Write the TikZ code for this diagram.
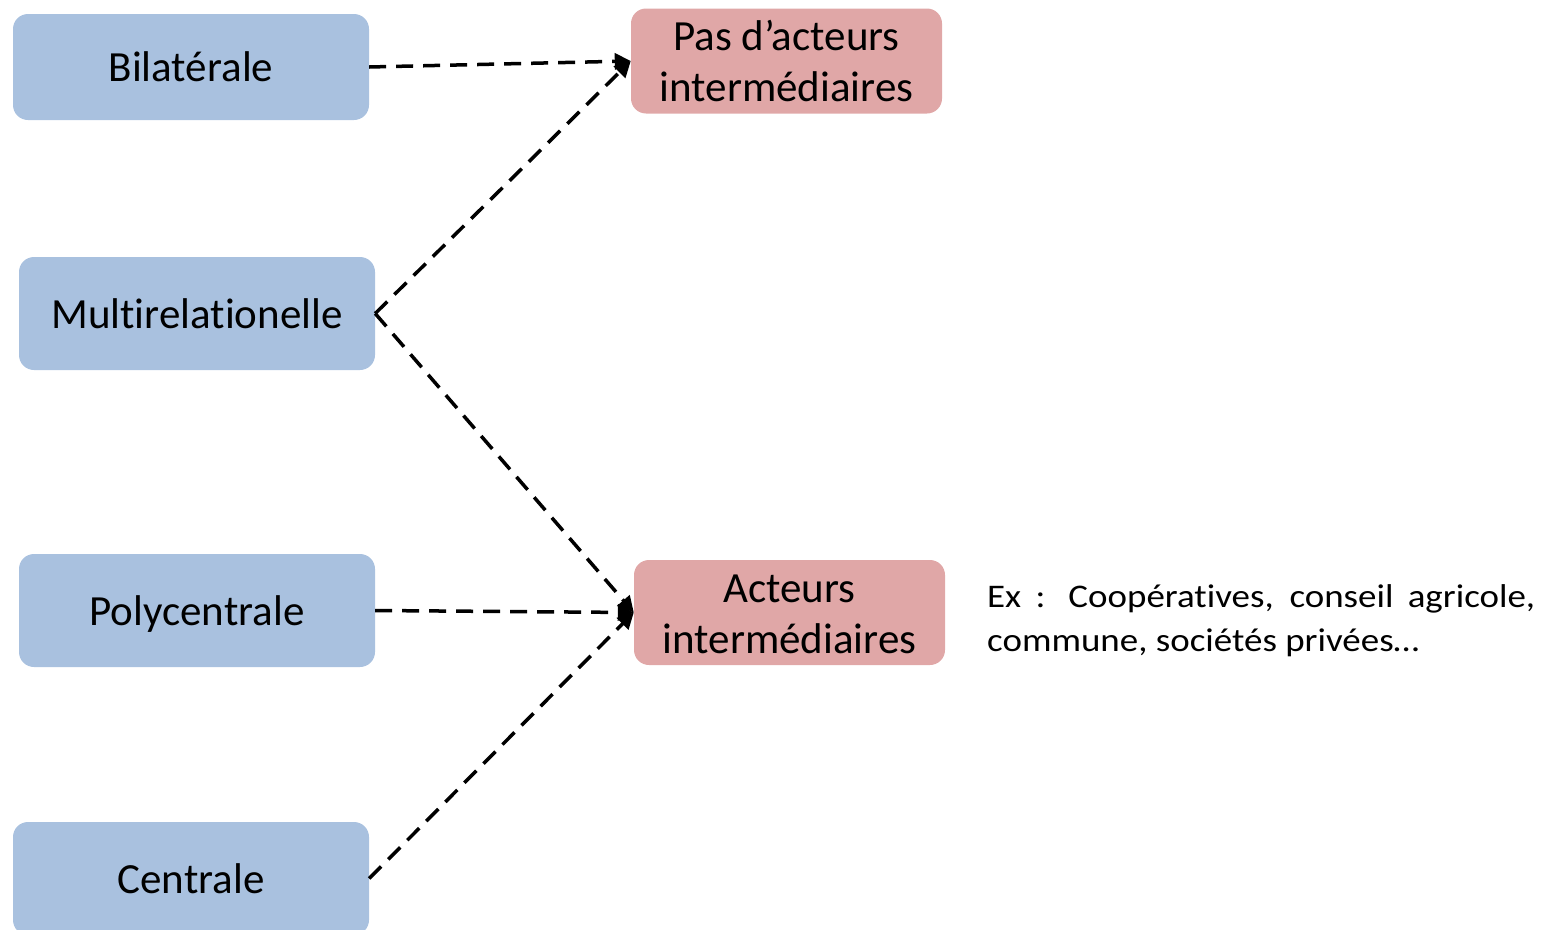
\documentclass[tikz,border=0pt]{standalone}
\usepackage{fontspec}
\setmainfont{Carlito}[RawFeature={-liga}]
\newfontfamily\exfont{Carlito}[RawFeature={-liga}, FakeStretch=1.12]
\usetikzlibrary{arrows.meta}
\definecolor{boxblue}{HTML}{A9C1DF}
\definecolor{boxpink}{HTML}{E0A7A7}
\begin{document}
\begin{tikzpicture}[x=1pt,y=-1pt,
  bbox/.style={fill=boxblue, rounded corners=15pt, minimum width=356pt, minimum height=#1, inner sep=0pt, text height=31pt, text depth=2pt, font=\fontsize{43}{51}\selectfont},
  pbox/.style={fill=boxpink, rounded corners=15pt, minimum width=311pt, minimum height=105pt, inner sep=0pt, align=center, font=\fontsize{43}{51}\selectfont},
  conn/.style={black, line width=3.5pt, dash pattern=on 17pt off 10pt, -{Triangle[length=16pt,width=16pt]}}]
\useasboundingbox (0,0) rectangle (1542,929);
\begin{scope}
\clip (0,0) rectangle (1542,929);
\node[bbox=106pt] (bil) at (191,67) {Bilatérale};
\node[bbox=113pt] (mul) at (197,313.5) {Multirelationelle};
\node[bbox=113pt] (pol) at (197,610.5) {Polycentrale};
\node[bbox=113pt] (cen) at (191,878.5) {Centrale};
\node[pbox] (pas) at (786.5,61) {Pas d’acteurs\\intermédiaires};
\node[pbox] (act) at (789.5,612.5) {\raisebox{0pt}[31pt][0pt]{Acteurs}\\intermédiaires};
\node[text width=548pt, align=justify, inner sep=0pt, anchor=west, font=\exfont\fontsize{33}{44}\selectfont] (ex) at (987,621) {Ex : Coopératives, conseil agricole, commune, sociétés privées…};
\draw[conn] (bil.east) -- (pas.west);
\draw[conn] (mul.east) -- (pas.west);
\draw[conn] (mul.east) -- (act.west);
\draw[conn] (pol.east) -- (act.west);
\draw[conn] (cen.east) -- (act.west);
\end{scope}
\end{tikzpicture}
\end{document}
